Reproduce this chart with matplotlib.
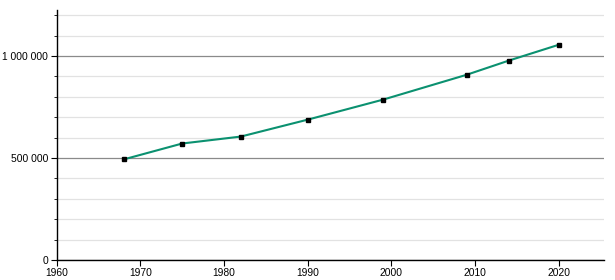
import numpy as np
import matplotlib.pyplot as plt
from matplotlib.ticker import MultipleLocator, FuncFormatter

# Datos
years = [1968, 1975, 1982, 1990, 1999, 2009, 2014, 2020]
population = [493000, 571000, 605000, 688000, 786000, 908000, 977000, 1055000]

plt.rcParams['font.family'] = ['Liberation Sans', 'DejaVu Sans']

fig = plt.figure(figsize=(6.15, 2.8), dpi=100)
ax = fig.add_axes([0.0922, 0.0714, 0.8898, 0.8926])

# Línea y marcadores
ax.plot(years, population, color='#0b9170', linewidth=1.5, zorder=3)
ax.plot(years, population, linestyle='none', marker='s', markersize=3.1,
        color='black', zorder=4)

ax.set_xlim(1960, 2025.4)
ax.set_ylim(0, 1225000)

ax.xaxis.set_major_locator(MultipleLocator(10))
ax.yaxis.set_major_locator(MultipleLocator(500000))
ax.yaxis.set_minor_locator(MultipleLocator(100000))
ax.yaxis.set_major_formatter(FuncFormatter(lambda v, p: f"{int(v):,}".replace(",", " ")))

# Cuadrícula
ax.grid(True, axis='y', which='major', color='#8a8a8a', linewidth=0.9, zorder=1)
ax.grid(True, axis='y', which='minor', color='#e2e2e2', linewidth=0.9, zorder=1)
ax.set_axisbelow(True)

for s in ['top', 'right']:
    ax.spines[s].set_visible(False)
ax.spines['left'].set_linewidth(1.0)
ax.spines['bottom'].set_linewidth(1.0)

ax.tick_params(axis='both', which='major', labelsize=7.4, length=4, width=0.8,
               colors='black', pad=2)
ax.tick_params(axis='y', which='minor', length=2.5, width=0.6)

fig.savefig('out.png', dpi=100)
